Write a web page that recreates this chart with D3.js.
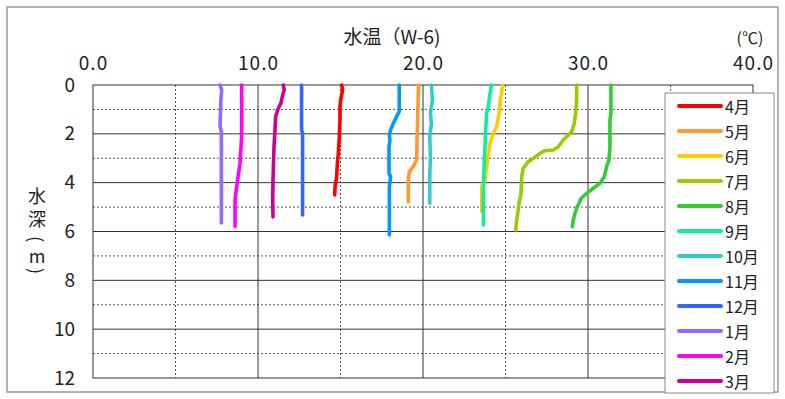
<!DOCTYPE html>
<html>
<head>
<meta charset="utf-8">
<script src="https://cdn.jsdelivr.net/npm/d3@7"></script>
<style>
  html, body { margin: 0; padding: 0; background: #fff; }
  svg { display: block; }
  text { font-family: "Noto Sans CJK JP", sans-serif; fill: #222; }
</style>
</head>
<body>
<svg id="chart" width="785" height="399"></svg>
<script>
// Water temperature profiles at station W-6: [temperature °C, depth m]
const apr = [[15.07,0],[15.13,0.2],[15.01,0.61],[14.97,0.89],[14.97,1.43],[14.93,2.12],[14.87,2.8],[14.81,3.21],[14.77,3.75],[14.67,4.16],[14.65,4.5]];
const may = [[19.73,0],[19.67,1.5],[19.61,3.07],[19.41,3.34],[19.17,3.55],[19.11,3.89],[19.11,4.78]];
const jun = [[24.82,0],[24.76,0.34],[24.66,0.75],[24.62,1.16],[24.46,1.71],[24.26,1.98],[24.06,2.39],[23.96,2.8],[23.86,3.34],[23.76,3.89],[23.56,4.16],[23.56,5.18]];
const jul = [[29.31,0],[29.31,0.61],[29.25,1.16],[29.17,1.57],[29.01,1.91],[28.81,2.05],[28.5,2.25],[28.2,2.53],[27.9,2.66],[27.39,2.69],[27.09,2.8],[26.69,3.0],[26.38,3.14],[26.08,3.41],[25.98,3.75],[25.94,4.44],[25.82,4.85],[25.74,5.26],[25.68,5.53],[25.62,5.94]];
const aug = [[31.39,0],[31.39,1.16],[31.33,1.43],[31.33,2.53],[31.27,3.07],[31.13,3.34],[30.99,3.75],[30.73,4.03],[30.32,4.23],[29.92,4.44],[29.58,4.64],[29.45,4.85],[29.31,5.05],[29.21,5.26],[29.11,5.53],[29.05,5.8]];
const sep = [[24.16,0],[24.06,0.34],[23.96,0.89],[23.86,1.16],[23.8,1.84],[23.76,2.53],[23.7,3.34],[23.66,4.3],[23.66,5.73]];
const oct = [[20.51,0],[20.57,0.61],[20.45,1.16],[20.51,1.57],[20.41,2.12],[20.45,2.94],[20.41,3.75],[20.41,4.85]];
const nov = [[18.56,0],[18.56,1.09],[18.5,1.16],[18.2,1.57],[18.04,1.84],[17.96,2.05],[18.0,2.25],[17.94,2.53],[17.94,3.62],[18.04,3.75],[17.96,4.16],[17.96,6.14]];
const dec = [[12.64,0],[12.64,1.84],[12.7,1.98],[12.7,5.32]];
const jan = [[7.7,0],[7.8,0.2],[7.75,0.61],[7.7,1.7],[7.78,1.9],[7.78,5.65]];
const feb = [[9.01,0],[9.01,2.1],[8.91,3.2],[8.71,4.16],[8.61,4.7],[8.61,5.8]];
const mar = [[11.53,0],[11.59,0.2],[11.47,0.48],[11.39,0.75],[11.19,1.02],[11.07,1.3],[11.03,1.84],[10.97,2.53],[10.95,2.94],[10.91,3.89],[10.89,4.71],[10.91,5.4]];

const months = ["4月","5月","6月","7月","8月","9月","10月","11月","12月","1月","2月","3月"];
const profiles = [apr, may, jun, jul, aug, sep, oct, nov, dec, jan, feb, mar];
const colors = ["#ff0000","#ff9933","#ffcc00","#99cc00","#33cc33","#11ee99","#33cccc","#0099ff","#3366ff","#9966ff","#ff00ff","#cc0099"];

const xTicks = [0, 10, 20, 30, 40];
const yTicks = [0, 2, 4, 6, 8, 10, 12];

const svg = d3.select("#chart");
const L = 93, R = 753, T = 85, B = 378;

const x = d3.scaleLinear().domain([0, 40]).range([L, R]);
const y = d3.scaleLinear().domain([0, 12]).range([T, B]);

// outer frame
svg.append("rect").attr("x", 7).attr("y", 7).attr("width", 771).attr("height", 385)
  .attr("fill", "#fff").attr("stroke", "#9a9a9a").attr("stroke-width", 1.5);

// minor (dotted) grid
const minorX = d3.range(5, 40, 10);
const minorY = d3.range(1, 12, 2);
const grid = svg.append("g");
grid.selectAll(".mx").data(minorX).join("line")
  .attr("x1", d => x(d)).attr("x2", d => x(d)).attr("y1", T).attr("y2", B)
  .attr("stroke", "#555").attr("stroke-dasharray", "2,2").attr("stroke-width", 1);
grid.selectAll(".my").data(minorY).join("line")
  .attr("x1", L).attr("x2", R).attr("y1", d => y(d)).attr("y2", d => y(d))
  .attr("stroke", "#555").attr("stroke-dasharray", "2,2").attr("stroke-width", 1);

// major (solid) grid
grid.selectAll(".gx").data(xTicks.slice(1, -1)).join("line")
  .attr("x1", d => x(d)).attr("x2", d => x(d)).attr("y1", T).attr("y2", B)
  .attr("stroke", "#333").attr("stroke-width", 1);
grid.selectAll(".gy").data(yTicks.slice(1, -1)).join("line")
  .attr("x1", L).attr("x2", R).attr("y1", d => y(d)).attr("y2", d => y(d))
  .attr("stroke", "#333").attr("stroke-width", 1);

svg.append("rect").attr("x", L).attr("y", T).attr("width", R - L).attr("height", B - T)
  .attr("fill", "none").attr("stroke", "#333").attr("stroke-width", 1);

// axes (labels only)
const xAxis = d3.axisTop(x).tickValues(xTicks).tickFormat(d3.format(".1f")).tickSize(0).tickPadding(0);
const gx = svg.append("g").attr("transform", "translate(0,70)").call(xAxis);
gx.select(".domain").remove();
gx.selectAll("text").attr("font-size", 19).attr("fill", "#222")
  .style("font-family", "'Noto Sans CJK JP', sans-serif").attr("letter-spacing", 1);

const yAxis = d3.axisLeft(y).tickValues(yTicks).tickFormat(d3.format("d")).tickSize(0).tickPadding(18);
const gy = svg.append("g").attr("transform", `translate(${L},0)`).call(yAxis);
gy.select(".domain").remove();
gy.selectAll("text").attr("font-size", 19).attr("fill", "#222")
  .style("font-family", "'Noto Sans CJK JP', sans-serif");

// titles
svg.append("text").attr("x", 392).attr("y", 44).attr("text-anchor", "middle")
  .attr("font-size", 19).text("水温（W-6)");
svg.append("text").attr("x", 750).attr("y", 44).attr("text-anchor", "middle")
  .attr("font-size", 16).text("(℃)");

// vertical depth title; parentheses turned sideways as in vertical writing
const yTitle = ["水", "深", "(", "m", ")"];
const yTitleY = [195, 218, 239, 255, 271];
const yTitleRot = [0, 0, 90, 0, 90];
svg.append("g").selectAll("text").data(yTitle).join("text")
  .attr("transform", (d, i) => `translate(37,${yTitleY[i]}) rotate(${yTitleRot[i]})`)
  .attr("text-anchor", "middle")
  .attr("dominant-baseline", "central").attr("font-size", 18).text(d => d);

// profile lines
const line = d3.line().x(d => x(d[0])).y(d => y(d[1])).curve(d3.curveLinear);
svg.append("g").selectAll("path").data(profiles).join("path")
  .attr("d", line).attr("fill", "none")
  .attr("stroke", (d, i) => colors[i]).attr("stroke-width", 3.6)
  .attr("stroke-linecap", "round").attr("stroke-linejoin", "round");

// legend
const lg = svg.append("g");
lg.append("rect").attr("x", 665).attr("y", 93).attr("width", 109).attr("height", 300)
  .attr("fill", "#fff").attr("stroke", "#8a8a8a").attr("stroke-width", 1);
const item = lg.selectAll("g").data(months).join("g")
  .attr("transform", (d, i) => `translate(0,${106 + i * 25})`);
item.append("line").attr("x1", 679).attr("x2", 721).attr("y1", 0).attr("y2", 0)
  .attr("stroke", (d, i) => colors[i]).attr("stroke-width", 4).attr("stroke-linecap", "round");
item.append("text").attr("x", 725).attr("y", 0).attr("dominant-baseline", "central")
  .attr("font-size", 16).text(d => d);
</script>
</body>
</html>
